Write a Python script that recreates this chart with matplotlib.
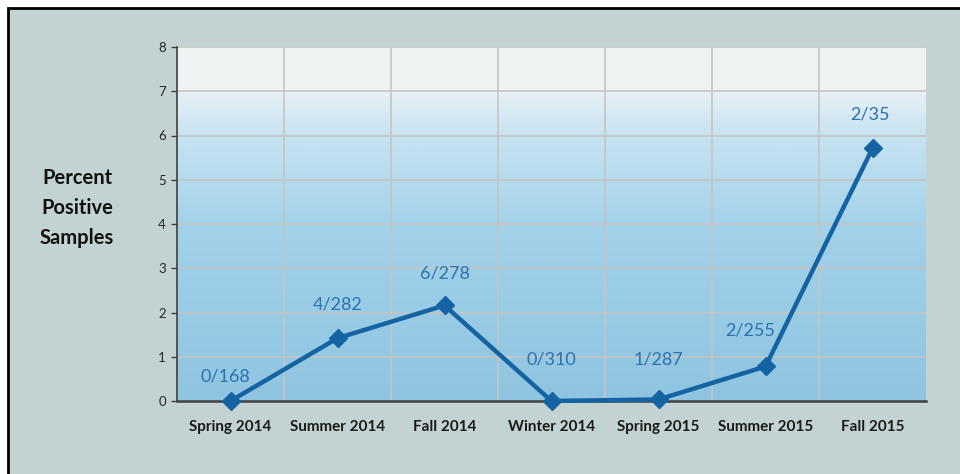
import numpy as np
import matplotlib.pyplot as plt
from matplotlib.colors import LinearSegmentedColormap
from matplotlib.patches import Rectangle

plt.rcParams['font.family'] = ['Lato', 'DejaVu Sans']

# Data
seasons = ['Spring 2014', 'Summer 2014', 'Fall 2014', 'Winter 2014',
           'Spring 2015', 'Summer 2015', 'Fall 2015']
percent_positive = [0.0, 1.42, 2.16, 0.0, 0.035, 0.78, 5.71]
sample_labels = ['0/168', '4/282', '6/278', '0/310', '1/287', '2/255', '2/35']

# label offsets in points (dx, dy) from each marker
label_offsets = [(-4, 18), (0, 24), (0, 23), (0, 30), (0, 29), (-11, 26), (-2, 24)]

line_color = '#1464a4'
label_color = '#2a72b0'

fig = plt.figure(figsize=(9.6, 4.74), dpi=100, facecolor='white')

# grey-blue panel with black border on top/left
panel = Rectangle((8 / 960, -0.1), 1.2, (474 - 8) / 474 + 0.1,
                  transform=fig.transFigure, facecolor='#c3d3d3',
                  edgecolor='black', linewidth=2, zorder=-10)
fig.patches.append(panel)

ax = fig.add_axes([177 / 960, 73 / 474, 749 / 960, 354 / 474])
ax.set_facecolor('none')

# vertical gradient in the plot area
stops = [(0.0, '#8fc4e0'), (0.5, '#a3d2ea'), (0.75, '#c6e3f1'),
         (0.868, '#e6eff5'), (0.88, '#eef2f3'), (1.0, '#eff3f4')]
cmap = LinearSegmentedColormap.from_list('bg', stops)
grad = np.linspace(0, 1, 400).reshape(-1, 1)
ax.imshow(grad, cmap=cmap, aspect='auto', origin='lower',
          extent=[-0.5, 6.5, 0, 8], zorder=0)

x = np.arange(len(seasons))
ax.set_xlim(-0.5, 6.5)
ax.set_ylim(0, 8)

ax.set_yticks(range(0, 9))
ax.set_xticks(x)
ax.set_xticklabels(seasons, fontsize=11, fontweight='bold', color='#1a1a1a')
ax.tick_params(axis='x', which='both', length=0, pad=14)
ax.tick_params(axis='y', length=4, width=1, color='#404040',
               labelsize=9.5, labelcolor='#262626', pad=4)

ax.grid(False)
for yv in range(1, 9):
    ax.axhline(yv, color='#c4c4c4', lw=1.2, zorder=1)
for xv in np.arange(0.5, 6.5, 1):
    ax.axvline(xv, color='#c4c4c4', lw=1.2, zorder=1)

for side in ['top', 'right']:
    ax.spines[side].set_visible(False)
ax.spines['left'].set_color('#404040')
ax.spines['left'].set_linewidth(1.2)
ax.spines['bottom'].set_color('#404040')
ax.spines['bottom'].set_linewidth(1.8)

ax.plot(x, percent_positive, color=line_color, lw=3.2, marker='D',
        markersize=9, markerfacecolor=line_color, markeredgecolor=line_color,
        zorder=3, clip_on=False)

for xi, yi, lab, (dx, dy) in zip(x, percent_positive, sample_labels, label_offsets):
    ax.annotate(lab, (xi, yi), xytext=(dx, dy), textcoords='offset points',
                ha='center', va='center', fontsize=13, color=label_color,
                zorder=4)

fig.text(77 / 960, 1 - 208 / 474, 'Percent\nPositive\nSamples',
         ha='center', va='center', fontsize=14.5, fontweight='bold',
         linespacing=1.6, color='#111111')

fig.savefig('out.png', dpi=100, facecolor=fig.get_facecolor())
